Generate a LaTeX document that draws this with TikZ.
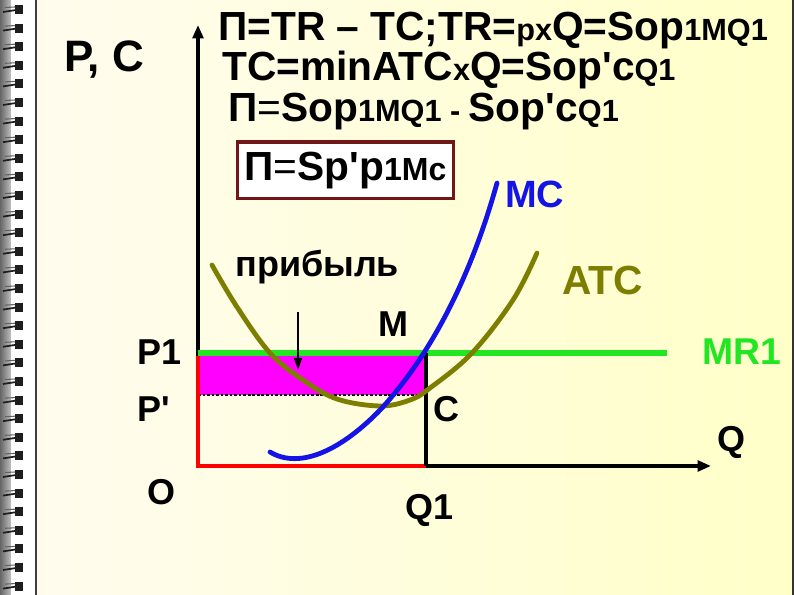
\documentclass[tikz,border=0pt]{standalone}
\usepackage{fontspec}
\newfontfamily\af{Liberation Sans}
\usetikzlibrary{arrows.meta}
\definecolor{bgL}{HTML}{FFFCF0}
\definecolor{bgR}{HTML}{FFFFC8}
\definecolor{olv}{HTML}{7D7D00}
\definecolor{mcblue}{HTML}{1414E6}
\definecolor{mrgreen}{HTML}{22E622}
\definecolor{boxred}{HTML}{701818}
\definecolor{ringc}{HTML}{1E1E1E}
\definecolor{profit}{HTML}{FF00FF}
\newcommand{\sz}{\fontsize{30.5}{32}\selectfont}
\newcommand{\bsz}{\fontsize{30.5}{32}\selectfont}
\newcommand{\lsz}{\fontsize{27}{29}\selectfont}
\newcommand{\ssz}{\fontsize{23}{25}\selectfont}
\newcommand{\thin}[1]{{\mdseries #1}}
\begin{document}
\begin{tikzpicture}[x=0.75pt,y=-0.75pt,
  lbl/.style={font=\af\bfseries\lsz, inner sep=0pt, anchor=base west},
  fml/.style={font=\af\bfseries\sz, inner sep=0pt, anchor=base west},
  curve/.style={line width=3.6pt, line cap=round},
  axis/.style={line width=3pt, -{Triangle[length=10pt,width=8pt]}},
]
\useasboundingbox (0,0) rectangle (794,595);
\shade[left color=bgL,right color=bgR] (0,0) rectangle (794,595);
% notebook binding
\shade[left color=black!60, right color=black!25] (0,0) rectangle (11,595);
\fill[white] (11,0) rectangle (35,595);
\draw[black!75, line width=1pt] (36,0) -- (36,595);
\draw[black!80, line width=1.5pt] (793,0) -- (793,595);
\foreach \k in {0,...,31} {
  \pgfmathsetmacro\yy{5+18.6*\k}
  \fill[ringc] (15,\yy) rectangle (23,\yy+9);
  \draw[ringc, line width=1.3pt] (3,\yy+7) -- (16,\yy+5);
  \draw[ringc!70, line width=0.8pt] (5,\yy+2.5) -- (15,\yy+2);
}
% key points
\coordinate (O) at (198,466);
\coordinate (Ytop) at (198,25);
\coordinate (Xend) at (711,466);
\coordinate (Q1) at (426,466);
\coordinate (M) at (426,353);
\coordinate (P1) at (198,353);
\coordinate (MRend) at (667,353);
\coordinate (Cpt) at (426,395);
\coordinate (Pp) at (198,395);
\coordinate (arrS) at (298,312);
\coordinate (arrE) at (298,370);
% profit area
\fill[profit] (199,355) rectangle (Cpt);
\draw[line width=2.2pt, dash pattern=on 2pt off 1.4pt] (Pp) -- (Cpt);
% axes
\draw[axis] (O) -- (Ytop);
\draw[axis] (O) -- (Xend);
% MR1
\draw[mrgreen, line width=4.5pt] (P1) -- (MRend);
% red lines
\draw[red, line width=3pt] (198,356) -- (O) -- (Q1);
\draw[line width=3pt] (M) -- (Q1);
% ATC
\draw[olv, curve] plot[smooth, tension=0.6] coordinates {(212,265) (237,307) (270,353) (303,380) (337,399) (380,406) (410,400) (430,388) (472,353) (513,300) (537,253)};
% MC
\draw[mcblue, curve] (270,452) .. controls (300,470) and (342,450) .. (382,408)
   .. controls (430,355) and (470,280) .. (497,183);
% arrow
\draw[line width=1.5pt, -{Triangle[length=9pt,width=6pt]}] (arrS) -- (arrE);
% formulas
\node[fml] (f1) at (218,41) {П=TR – TC;TR={\ssz px}Q=Sop{\ssz 1MQ1}};
\node[fml] (f2) at (222,81) {TC=minATC{\ssz x}Q=Sop'c{\ssz Q1}};
\node[fml] (f3) at (228,122) {П\thin{=}Sop{\ssz 1MQ1 - }Sop'c{\ssz Q1}};
\node[draw=boxred, line width=2.5pt, fill=white, font=\af\bfseries\bsz, inner sep=0pt,
      minimum width=162pt, minimum height=42.5pt] (box) at (345.5,170.5) {П\thin{=}Sp'p{\fontsize{24}{26}\selectfont 1Mc}};
% labels
\node[lbl, font=\af\bfseries\fontsize{33}{35}\selectfont] (PC) at (64,72) {P, C};
\node[lbl] (lP1) at (137,365) {P1};
\node[lbl] (lPp) at (137,422) {P'};
\node[lbl] (lO) at (147,505) {O};
\node[lbl] (lM) at (378,337) {M};
\node[lbl] (lC) at (433,422) {C};
\node[lbl] (lQ1) at (405,520) {Q1};
\node[lbl] (lQ) at (717,452) {Q};
\node[lbl, font=\af\bfseries\fontsize{28}{30}\selectfont, text=mrgreen] (lMR) at (702,365) {MR1};
\node[lbl, font=\af\bfseries\sz, text=olv] (lATC) at (562,295) {ATC};
\node[lbl, font=\af\bfseries\fontsize{28.5}{30}\selectfont, text=mcblue] (lMC) at (505,208) {MC};
\node[lbl, font=\af\bfseries\fontsize{27}{29}\selectfont] (prof) at (235,277) {прибыль};
\end{tikzpicture}
\end{document}
